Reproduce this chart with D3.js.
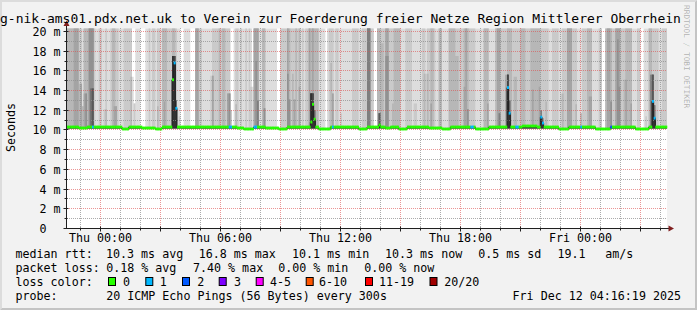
<!DOCTYPE html>
<html>
<head>
<meta charset="utf-8">
<script src="https://cdn.jsdelivr.net/npm/d3@7"></script>
<style>
html, body { margin: 0; padding: 0; background: #f2f2f2; }
svg { display: block; }
text { font-family: "DejaVu Sans Mono", monospace; fill: #000; white-space: pre; }
</style>
</head>
<body>
<div id="chart"></div>
<script>
// ---- data ----
var startTime = Date.UTC(2025, 11, 10, 22, 20); // Wed 22:20, 5 min steps
var stepMs = 5 * 60 * 1000;

// median rtt per 5 min step, ms
var medianMs = [
  10.3,10.3,10.3,10.3,10.3,10.3,10.3,10.2,10.2,10.2,10.2,10.2,10.3,10.3,10.3,10.3,10.3,10.3,10.3,10.3,
  10.3,10.3,10.3,10.3,10.3,10.3,10.3,10.3,10.3,10.3,10.3,10.3,10.3,10.1,10.1,10.1,10.1,10.3,10.3,10.3,
  10.3,10.3,10.3,10.3,10.3,10.2,10.2,10.2,10.2,10.2,10.2,10.2,10.2,10.1,10.1,10.1,10.1,10.3,10.3,10.3,
  10.3,10.3,10.3,15.1,16.8,12.2,10.3,10.3,10.3,10.3,10.3,10.3,10.3,10.3,10.3,10.3,10.3,10.3,10.3,10.3,
  10.3,10.3,10.3,10.3,10.3,10.3,10.3,10.3,10.3,10.3,10.3,10.3,10.3,10.3,10.3,10.3,10.3,10.3,10.3,10.3,
  10.3,10.3,10.2,10.2,10.2,10.2,10.1,10.1,10.1,10.1,10.1,10.1,10.3,10.3,10.3,10.3,10.3,10.3,10.3,10.2,
  10.2,10.2,10.2,10.2,10.2,10.2,10.2,10.1,10.1,10.1,10.1,10.1,10.3,10.3,10.3,10.3,10.3,10.3,10.3,10.3,
  10.3,10.3,10.3,10.3,10.3,10.3,10.8,12.6,11.1,10.3,10.3,10.1,10.1,10.1,10.1,10.1,10.1,10.1,10.3,10.3,
  10.3,10.3,10.3,10.3,10.3,10.3,10.3,10.3,10.3,10.3,10.3,10.3,10.3,10.3,10.3,10.1,10.1,10.1,10.1,10.1,
  10.3,10.3,10.3,10.3,10.3,10.3,10.3,10.5,10.3,10.3,10.3,10.2,10.2,10.2,10.3,10.3,10.3,10.3,10.3,10.1,
  10.1,10.1,10.1,10.1,10.3,10.3,10.3,10.3,10.3,10.3,10.3,10.3,10.3,10.3,10.3,10.3,10.3,10.2,10.2,10.2,
  10.2,10.2,10.2,10.2,10.2,10.1,10.1,10.1,10.1,10.1,10.3,10.3,10.3,10.3,10.3,10.3,10.3,10.3,10.3,10.3,
  10.3,10.3,10.3,10.3,10.3,10.1,10.1,10.1,10.1,10.1,10.1,10.1,10.1,10.3,10.3,10.3,10.3,10.3,10.3,10.3,
  10.3,10.3,10.3,10.3,14.3,11.7,10.3,10.3,10.3,10.3,10.3,10.3,10.3,10.4,10.4,10.4,10.4,10.4,10.4,10.4,
  10.4,10.4,10.3,10.3,11.3,10.7,10.3,10.3,10.3,10.3,10.3,10.3,10.3,10.3,10.3,10.1,10.1,10.1,10.1,10.1,
  10.1,10.3,10.3,10.3,10.3,10.3,10.3,10.3,10.3,10.3,10.3,10.3,10.3,10.3,10.3,10.3,10.3,10.1,10.1,10.1,
  10.1,10.1,10.1,10.1,10.1,10.1,10.3,10.3,10.3,10.3,10.3,10.3,10.3,10.3,10.3,10.3,10.3,10.3,10.3,10.3,
  10.3,10.1,10.1,10.1,10.1,10.1,10.1,10.1,10.1,10.3,10.3,12.9,11.2,10.3,10.3,10.3,10.3,10.3,10.3,10.3
];

// pings per step (of 20) that were slower than the top of the graph
var slowPings = [
  3,3,3,3,4,4,4,2,2,1,3,3,3,5,5,5,2,1,1,2,
  2,1,1,2,1,1,2,3,3,2,2,1,1,1,2,2,2,2,2,0,
  0,1,1,1,0,0,0,1,1,2,1,2,2,1,2,2,1,3,3,3,
  2,2,2,3,3,2,1,1,0,0,1,1,1,1,0,0,0,4,4,2,
  2,1,1,1,1,1,1,2,2,2,2,3,2,3,3,2,2,2,0,0,
  1,2,2,1,2,1,1,2,1,2,1,0,4,4,4,1,1,3,3,1,
  1,1,1,1,1,1,0,0,2,2,2,2,4,3,2,2,2,3,2,3,
  1,2,1,2,2,4,3,4,3,3,3,1,1,1,1,0,1,2,2,2,
  1,2,2,1,1,1,1,1,1,1,1,2,2,2,2,1,1,2,2,2,
  6,6,2,2,0,0,3,3,2,2,2,4,4,2,2,2,3,3,3,3,
  1,1,1,2,2,2,2,1,1,1,1,1,1,2,2,1,2,2,3,3,
  2,1,1,3,3,1,1,1,1,3,3,3,3,2,2,2,2,2,3,4,
  3,2,2,2,2,1,1,1,1,1,3,3,3,1,1,1,1,3,4,4,
  2,2,2,2,3,3,3,2,2,2,2,2,3,3,3,2,2,2,3,3,
  3,3,3,3,2,2,2,2,2,1,1,2,2,2,2,1,1,2,2,2,
  4,4,4,2,2,2,1,1,1,2,2,2,3,3,3,1,1,1,1,2,
  2,0,0,3,4,4,3,2,2,4,4,4,2,2,2,3,3,3,3,1,
  1,1,2,2,0,0,1,1,1,3,3,2,2,2,2,1,1,2,2,2
];

// [step, rtt ms, pings] : pings between the median and the top
var midPings = [
  [7,14.7,1],[8,14.7,2],[9,12.4,2],[10,13.7,1],[11,13.7,2],[14,14.2,2],[15,14.2,3],
  [22,12.1,1],[23,12.1,1],[28,12.4,1],[29,12.4,2],[38,15.4,1],[39,15.4,1],[40,12.7,2],
  [54,12.4,1],[58,12.9,1],[63,17.5,7],[64,17.5,6],[65,13.0,5],[67,11.4,1],
  [86,15.5,1],[87,15.5,2],[96,13.7,2],[97,13.7,3],[98,12.0,2],[101,12.6,1],[110,14.4,1],
  [111,14.4,1],[113,17.0,1],[114,13.0,2],[118,12.2,2],[132,15.7,1],[133,13.1,2],
  [135,15.7,1],[136,13.1,2],[139,14.4,1],
  [146,13.7,7],[147,13.7,5],[148,12.0,4],[158,16.8,1],[159,13.7,2],[164,11.7,1],
  [187,11.7,5],[188,18.8,1],[189,18.8,1],[191,17.5,1],[192,17.5,1],[195,12.7,1],
  [208,12.7,1],[209,12.7,1],[214,15.7,1],[215,15.7,1],
  [216,15.7,1],[218,12.7,1],[233,17.5,1],[234,17.5,1],[238,14.4,1],[240,12.1,2],
  [252,12.7,1],[259,11.7,2],[263,15.6,2],[264,15.6,6],[265,13.0,4],[268,15.4,1],
  [269,15.4,1],[279,14.1,1],[283,14.4,1],[284,12.0,4],[285,11.2,3],
  [287,12.9,1],[296,13.7,1],[297,13.7,1],[305,12.6,1],[308,11.7,2],[313,13.4,1],
  [314,13.4,1],[326,12.9,2],[330,19.2,1],[331,14.4,1],[334,15.1,1],[335,15.1,1],
  [338,12.7,1],[347,11.4,1],[350,15.6,3],[351,15.6,6],[352,12.5,4],[356,12.1,1]
];

// [step, lost pings]
var lostPings = [
  [15,1],[64,1],[65,1],[97,1],[98,1],[112,1],[113,1],[159,1],[242,1],[243,1],
  [264,1],[265,1],[269,1],[270,1],[284,1],[285,1],[308,1],[326,2],[351,1],[352,1]
];

var yTickValues = [0, 2, 4, 6, 8, 10, 12, 14, 16, 18, 20];
var lossLabels = ["0", "1", "2", "3", "4-5", "6-10", "11-19", "20/20"];
var lossLimits = [0, 1, 2, 3, 5, 10, 19, 20];
var lossColors = ["#26ff00", "#00b8ff", "#0059ff", "#7e00ff", "#ff00ff", "#ff5500", "#ff0000", "#a10000"];

var titleText = "g-nik-ams01.pdx.net.uk to Verein zur Foerderung freier Netze Region Mittlerer Oberrhein";
var rttLegend = ["median rtt:", "10.3 ms avg", "16.8 ms max", "10.1 ms min", "10.3 ms now", "0.5 ms sd", "19.1", "am/s"];
var lossLegend = ["packet loss:", "0.18 % avg", "7.40 % max", "0.00 % min", "0.00 % now"];
var probeLegend = ["probe:", "20 ICMP Echo Pings (56 Bytes) every 300s"];
var stampText = "Fri Dec 12 04:16:19 2025";

// ---- layout ----
var W = 697, H = 310;
var pL = 67, pR = 667, pT = 28.5, pB = 228.5;
var rttX = [15.5, 106, 198.7, 292, 385, 478.2, 557.4, 605.2];
var lossX = [15.5, 106.2, 193, 278.2, 364.2];
var boxX = [108.5, 145.8, 182.5, 219.2, 256.2, 306.2, 365.5, 430];
var boxLabelX = [123, 159.7, 197.2, 233.9, 270, 319, 379, 444.2];

var svg = d3.select("#chart").append("svg")
    .attr("width", W)
    .attr("height", H)
    .attr("viewBox", [0, 0, W, H]);

svg.append("rect").attr("width", W).attr("height", H).attr("fill", "#f2f2f2");
svg.append("path").attr("d", "M0,0H" + W + "L" + (W - 2) + ",2H2V" + (H - 2) + "L0," + H + "Z").attr("fill", "#dcdcdc");
svg.append("path").attr("d", "M" + W + ",0V" + H + "H0L2," + (H - 2) + "H" + (W - 2) + "V2Z").attr("fill", "#c4c4c4");

var endTime = startTime + medianMs.length * stepMs;
var x = d3.scaleUtc().domain([startTime, endTime]).range([pL, pR]);
var y = d3.scaleLinear().domain([0, 20.3]).range([pB, pT]);

// build sorted pings per step (smokeping style)
var lossMap = new Map(lostPings);
var midMap = d3.group(midPings, d => d[0]);
var rows = medianMs.map(function (m, i) {
    var n = slowPings[i];
    var rest = 10 - n;
    var mids = [];
    (midMap.get(i) || []).forEach(function (c) {
        var k = Math.min(c[2], rest);
        rest -= k;
        for (var j = 0; j < k; j++) mids.push(c[1]);
    });
    var upper = [];
    for (var j = 0; j < rest; j++) upper.push(m);
    upper = upper.concat(mids.sort(d3.ascending));
    for (var j = 0; j < n; j++) upper.push(40);
    var low = Math.min(m, 10.2) - 0.02;
    var lower = d3.range(10).map(() => low);
    return { t: startTime + i * stepMs, median: m, pings: lower.concat(upper), loss: lossMap.get(i) || 0 };
});
var series = rows.concat([Object.assign({}, rows[rows.length - 1], { t: endTime })]);

// canvas
svg.append("rect").attr("x", pL).attr("y", pT).attr("width", pR - pL).attr("height", pB - pT).attr("fill", "#fff");

svg.append("defs").append("clipPath").attr("id", "canvas")
    .append("rect").attr("x", pL).attr("y", pT).attr("width", pR - pL).attr("height", pB - pT);

// smoke: band b from ping b to ping 21-b, lighter outside
var smoke = svg.append("g").attr("clip-path", "url(#canvas)");
d3.range(1, 11).forEach(function (b) {
    var c = Math.floor(190 / 10 * (10 - b)) + 50;
    var area = d3.area()
        .curve(d3.curveStepAfter)
        .x(d => x(d.t))
        .y0(d => y(Math.min(d.pings[b - 1], 21)))
        .y1(d => y(Math.min(d.pings[20 - b], 21)));
    smoke.append("path").datum(series).attr("d", area).attr("fill", d3.rgb(c, c, c));
});

// grid
var grid = svg.append("g").attr("fill", "none").attr("stroke-width", 1).attr("stroke-dasharray", "1,1");
var hours = x.ticks(d3.utcHour.every(1));
hours.forEach(function (t) {
    var gx = Math.floor(x(t)) + 0.5;
    var major = t.getUTCHours() % 3 === 0;
    grid.append("line")
        .attr("x1", gx).attr("x2", gx).attr("y1", pT - 0.5).attr("y2", pB - 0.5)
        .attr("stroke", major ? "rgba(222,79,79,0.6)" : "rgba(143,143,143,0.75)");
});
d3.range(1, 21).forEach(function (v) {
    var gy = Math.floor(y(v)) + 0.5;
    grid.append("line")
        .attr("x1", pL).attr("x2", pR).attr("y1", gy).attr("y2", gy)
        .attr("stroke", v % 2 === 0 ? "rgba(222,79,79,0.6)" : "rgba(143,143,143,0.75)");
});

// median line and loss coloured median band
svg.append("path").datum(series)
    .attr("fill", "none").attr("stroke", "#202020").attr("stroke-width", 1)
    .attr("d", d3.line().curve(d3.curveStepAfter).x(d => x(d.t)).y(d => y(d.median)));

function lossColor(l) {
    var i = lossLimits.findIndex(lim => l <= lim);
    return lossColors[i];
}
svg.append("g").selectAll("rect").data(rows).join("rect")
    .attr("x", d => x(d.t))
    .attr("width", d => x(d.t + stepMs) - x(d.t) + 0.3)
    .attr("y", d => y(d.median) - 1.4)
    .attr("height", 2.8)
    .attr("fill", d => lossColor(d.loss));

// axes
var axisY = Math.floor(pB) + 0.5;
var axis = svg.append("g").attr("stroke", "#1f1f1f").attr("stroke-width", 1);
axis.append("line").attr("x1", pL - 0.5).attr("x2", pL - 0.5).attr("y1", axisY).attr("y2", 25);
axis.append("line").attr("x1", pL - 0.5).attr("x2", 669).attr("y1", axisY).attr("y2", axisY);
hours.forEach(function (t) {
    var gx = Math.floor(x(t)) + 0.5;
    var major = t.getUTCHours() % 3 === 0;
    axis.append("line").attr("x1", gx).attr("x2", gx).attr("y1", axisY - (major ? 2 : 1)).attr("y2", axisY + (major ? 3 : 2));
});
d3.range(0, 21).forEach(function (v) {
    var gy = Math.floor(y(v)) + 0.5;
    var major = v % 2 === 0;
    axis.append("line").attr("x1", pL - (major ? 3.5 : 2.5)).attr("x2", pL + (major ? 1.5 : 0.5)).attr("y1", gy).attr("y2", gy);
});
svg.append("path").attr("d", "M" + (pL - 0.5) + ",20.5L" + (pL + 2.5) + ",26L" + (pL - 3.5) + ",26Z").attr("fill", "#801f1f");
svg.append("path").attr("d", "M674," + axisY + "L668.5," + (axisY - 3) + "L668.5," + (axisY + 3) + "Z").attr("fill", "#801f1f");

// tick labels
var fmtTime = d3.utcFormat("%a %H:%M");
svg.append("g").selectAll("text")
    .data(hours.filter(t => t.getUTCHours() % 6 === 0))
    .join("text")
    .attr("x", t => Math.floor(x(t)) + 0.5)
    .attr("y", 241.8)
    .attr("text-anchor", "middle")
    .attr("font-size", "11.66px")
    .text(t => fmtTime(t));

svg.append("g").selectAll("text")
    .data(yTickValues)
    .join("text")
    .attr("x", v => v === 0 ? 60.6 - 2 * 7.02 : 60.6)
    .attr("y", v => Math.floor(y(v)) + 0.5 + 4.2)
    .attr("text-anchor", "end")
    .attr("font-size", "11.66px")
    .text(v => v === 0 ? "0" : v + " m");

svg.append("text")
    .attr("transform", "translate(15,127.5) rotate(-90)")
    .attr("text-anchor", "middle")
    .attr("font-size", "11.66px")
    .text("Seconds");

// title and watermark
svg.append("text").attr("x", 0).attr("y", 22.5).attr("font-size", "13px").text(titleText);
svg.append("text")
    .attr("transform", "translate(684,5) rotate(90)")
    .attr("font-size", "7.8px")
    .style("fill", "rgba(0,0,0,0.28)")
    .text("RRDTOOL / TOBI OETIKER");

// legend
var legend = svg.append("g").attr("font-size", "11.66px");
rttLegend.forEach((s, i) => legend.append("text").attr("x", rttX[i]).attr("y", 258).text(s));
lossLegend.forEach((s, i) => legend.append("text").attr("x", lossX[i]).attr("y", 272).text(s));
legend.append("text").attr("x", 15.5).attr("y", 286).text("loss color:");
lossLabels.forEach(function (s, i) {
    legend.append("rect")
        .attr("x", boxX[i]).attr("y", 277.5).attr("width", 7).attr("height", 8)
        .attr("fill", lossColors[i]).attr("stroke", "#000").attr("stroke-width", 1);
    legend.append("text").attr("x", boxLabelX[i]).attr("y", 286).text(s);
});
legend.append("text").attr("x", 15.5).attr("y", 299.7).text(probeLegend[0]);
legend.append("text").attr("x", 106.2).attr("y", 299.7).text(probeLegend[1]);
legend.append("text").attr("x", 681).attr("y", 299.7).attr("text-anchor", "end").text(stampText);
</script>
</body>
</html>
